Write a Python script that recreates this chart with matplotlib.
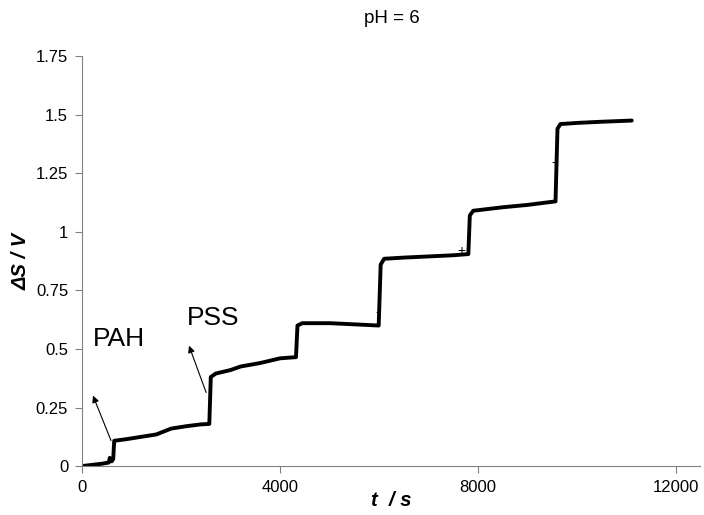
import matplotlib.pyplot as plt

plt.rcParams['font.family'] = ['Liberation Sans', 'DejaVu Sans']

# trace: time (s) and signal change (V)
t_s = [0, 200, 400, 540, 560, 600, 630, 650, 900, 1200, 1500, 1800, 2100, 2400, 2570,
       2600, 2700, 3000, 3200, 3600, 4000, 4320, 4350, 4450, 5000, 5500, 5990,
       6030, 6100, 6500, 7000, 7500, 7800, 7830, 7900, 8500, 9000, 9560,
       9600, 9660, 10000, 10500, 11100]
dS_V = [0.0, 0.005, 0.01, 0.015, 0.035, 0.02, 0.03, 0.108, 0.115, 0.125, 0.135, 0.16, 0.17, 0.178, 0.18,
        0.38, 0.395, 0.41, 0.425, 0.44, 0.46, 0.465, 0.6, 0.61, 0.61, 0.605, 0.6,
        0.86, 0.885, 0.89, 0.895, 0.9, 0.905, 1.07, 1.09, 1.105, 1.115, 1.13,
        1.44, 1.46, 1.465, 1.47, 1.475]

x_ticks = [0, 4000, 8000, 12000]
y_ticks = [0, 0.25, 0.5, 0.75, 1, 1.25, 1.5, 1.75]
y_labels = ['0', '0.25', '0.5', '0.75', '1', '1.25', '1.5', '1.75']

fig = plt.figure(figsize=(7.04, 5.15), dpi=100)
ax = fig.add_axes([0.1165, 0.095, 0.878, 0.796])

ax.plot(t_s, dS_V, color='black', lw=2.8, solid_joinstyle='round', solid_capstyle='round')

ax.set_xlim(0, 12480)
ax.set_ylim(0, 1.75)
ax.set_xticks(x_ticks)
ax.set_yticks(y_ticks)
ax.set_yticklabels(y_labels)
for s in ['top', 'right']:
    ax.spines[s].set_visible(False)
for s in ['left', 'bottom']:
    ax.spines[s].set_color('#808080')
ax.tick_params(direction='out', length=5, color='#808080', labelsize=12, pad=5)

ax.set_xlabel('t  / s', fontsize=14.5, fontweight='bold', style='italic', labelpad=-3)
ax.set_ylabel('ΔS / V', fontsize=14.5, fontweight='bold', style='italic', labelpad=4)
fig.text(0.557, 0.965, 'pH = 6', ha='center', va='center', fontsize=13.5)

# layer labels with arrows
ax.annotate('', xy=(200, 0.312), xytext=(606, 0.098),
            arrowprops=dict(arrowstyle='-|>', color='black', lw=0.8, mutation_scale=10))
ax.annotate('', xy=(2141, 0.525), xytext=(2525, 0.303),
            arrowprops=dict(arrowstyle='-|>', color='black', lw=0.8, mutation_scale=10))
ax.text(747, 0.542, 'PAH', ha='center', va='center', fontsize=19)
ax.text(2646, 0.632, 'PSS', ha='center', va='center', fontsize=19)

# small marks near the steps
ax.text(5960, 0.657, '-', ha='center', va='center', fontsize=10)
ax.text(7657, 0.92, '+', ha='center', va='center', fontsize=10)
ax.text(9515, 1.30, '-', ha='center', va='center', fontsize=10)

fig.savefig('out.png', dpi=100)
